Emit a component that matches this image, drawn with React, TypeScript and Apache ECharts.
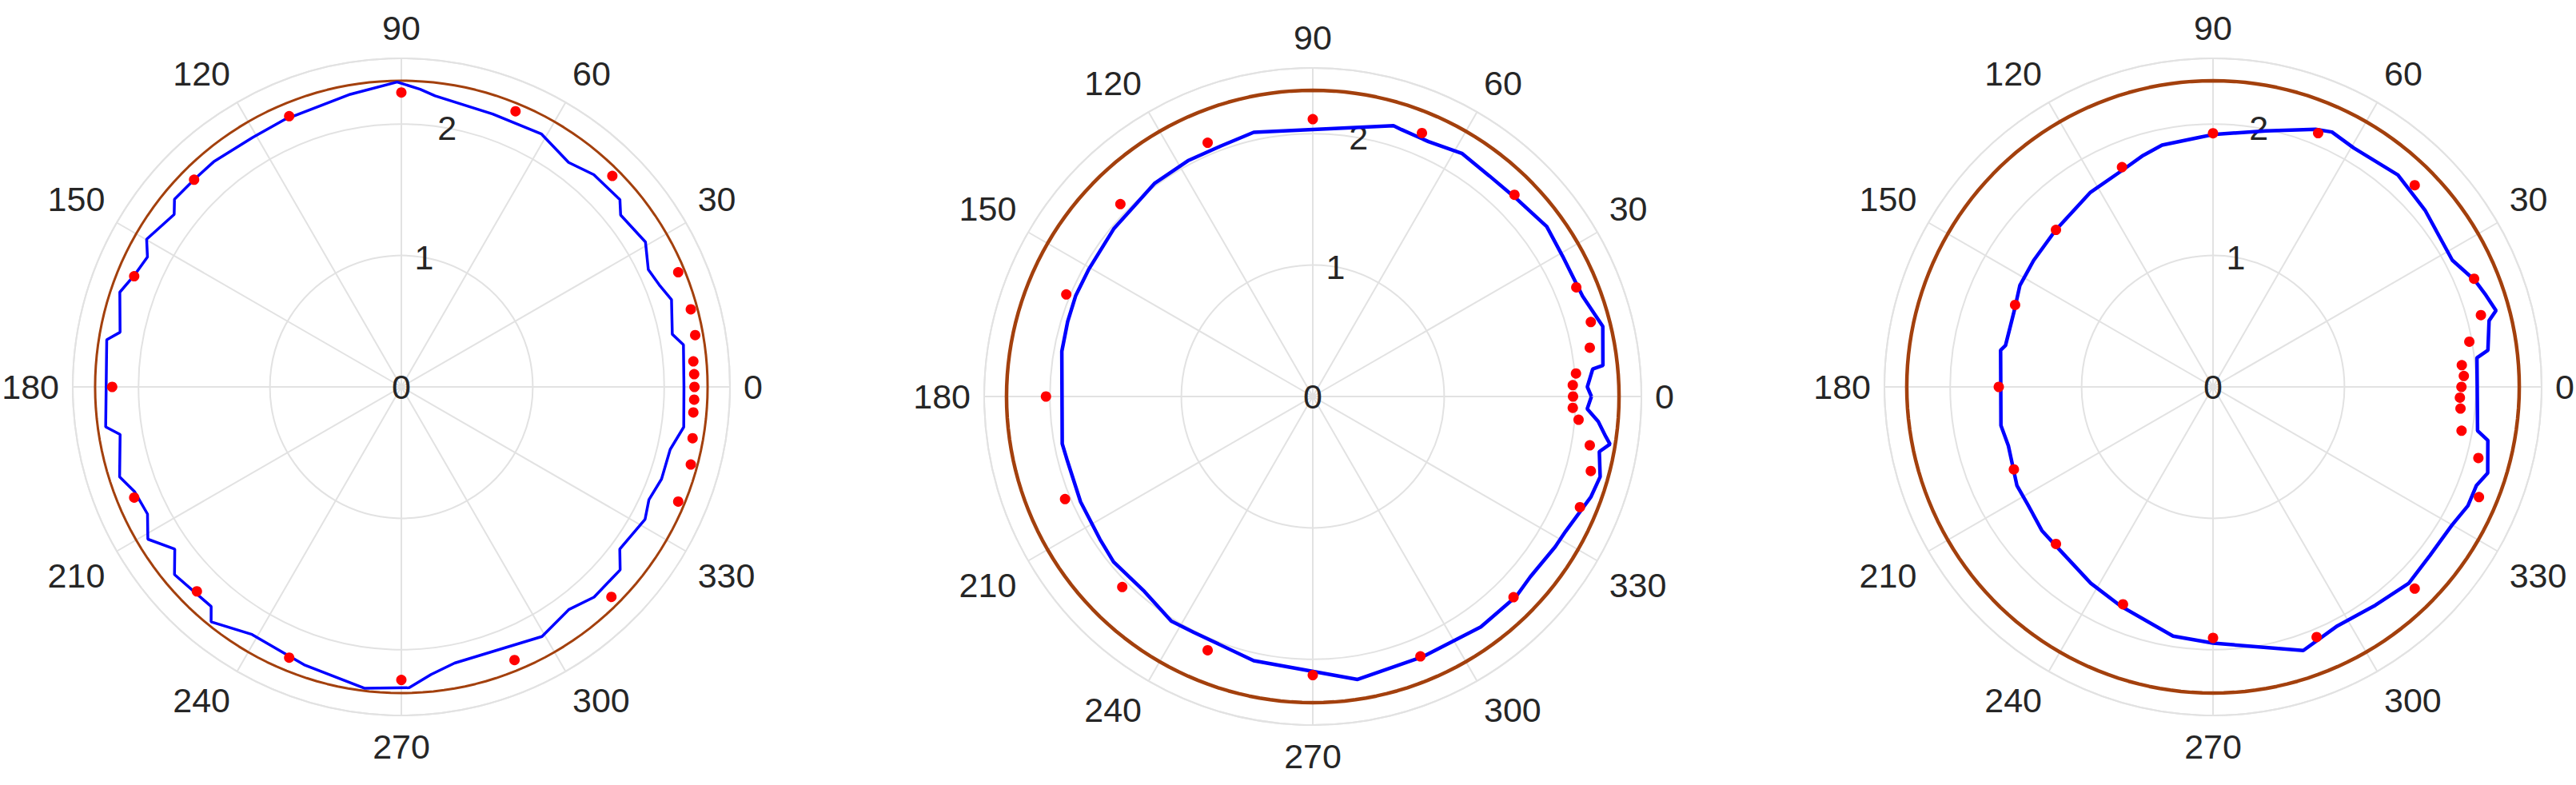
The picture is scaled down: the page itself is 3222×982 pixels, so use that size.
import React, { useEffect, useRef } from "react";
import * as echarts from "echarts";

// Red measured points: shared angles (deg)
const dotAngles = [0, 2.5, 5, 10, 15, 22.5, 45, 67.5, 90, 112.5, 135, 157.5, 180, 202.5, 225, 247.5, 270, 292.5, 315, 337.5, 345, 350, 355, 357.5];
const dotR1 = [2.23, 2.23, 2.23, 2.27, 2.28, 2.28, 2.27, 2.27, 2.24, 2.23, 2.23, 2.2, 2.2, 2.2, 2.2, 2.23, 2.23, 2.25, 2.26, 2.28, 2.28, 2.25, 2.23, 2.23];
const dotR2 = [1.98, 1.98, 2.01, 2.14, 2.19, 2.17, 2.17, 2.17, 2.11, 2.09, 2.07, 2.03, 2.03, 2.04, 2.05, 2.09, 2.12, 2.14, 2.16, 2.2, 2.19, 2.14, 2.03, 1.98];
const dotR3 = [1.89, 1.91, 1.9, 1.98, 2.11, 2.15, 2.17, 2.09, 1.93, 1.81, 1.69, 1.63, 1.63, 1.64, 1.69, 1.79, 1.91, 2.06, 2.17, 2.19, 2.09, 1.92, 1.89, 1.88];

// Blue curves (angle deg, radius)
const blueA1 = [0, 8.5, 11, 17.9, 21.6, 25.4, 30.7, 38.1, 40.6, 47.8, 53.3, 61, 71.5, 83.4, 86.4, 90.8, 99.9, 113.5, 120.8, 129.8, 134.9, 140.4, 142.8, 149.9, 152.9, 157.1, 161.4, 169, 170.9, 187.7, 189.6, 197.7, 201.5, 206.6, 211, 215.6, 219.6, 229.1, 231, 238.9, 250.7, 263, 271.5, 275.9, 280.9, 299.4, 307, 312.5, 320.1, 323.4, 331.5, 335.5, 340.5, 346.9, 351.9];
const blueR1 = [2.15, 2.17, 2.1, 2.16, 2.11, 2.08, 2.16, 2.12, 2.19, 2.18, 2.13, 2.2, 2.19, 2.23, 2.27, 2.32, 2.26, 2.22, 2.21, 2.23, 2.23, 2.24, 2.17, 2.24, 2.17, 2.2, 2.26, 2.18, 2.27, 2.27, 2.17, 2.25, 2.18, 2.16, 2.25, 2.12, 2.24, 2.21, 2.3, 2.2, 2.24, 2.31, 2.29, 2.2, 2.14, 2.18, 2.12, 2.17, 2.17, 2.07, 2.11, 2.07, 2.1, 2.1, 2.17];

const blueA2 = [0, 2, 5.6, 6.1, 13.6, 15.8, 20.4, 29.3, 36, 44.2, 51.3, 58.5, 65.6, 71.6, 73.4, 102.6, 110.2, 117.9, 126.5, 139.9, 150.3, 157, 163, 169.8, 190.7, 194.8, 204.4, 213.9, 219.7, 229.2, 237.8, 243.2, 257.4, 279, 293, 306.1, 315.5, 320.3, 328.2, 331.9, 340.2, 344.4, 349.1, 350.9, 352.2, 355, 357.4];
const blueR2 = [2.12, 2.09, 2.14, 2.22, 2.27, 2.24, 2.19, 2.18, 2.2, 2.16, 2.15, 2.17, 2.13, 2.14, 2.15, 2.06, 2.03, 2.03, 2.02, 1.98, 1.96, 1.96, 1.95, 1.94, 1.94, 1.93, 1.94, 1.95, 1.97, 1.96, 2.02, 2.01, 2.06, 2.18, 2.15, 2.17, 2.17, 2.15, 2.17, 2.18, 2.25, 2.27, 2.22, 2.29, 2.25, 2.18, 2.09];

const blueA3 = [0, 6.3, 7.6, 13.5, 15.1, 18.6, 22.2, 27.9, 39.8, 48.9, 59.5, 65, 68.3, 78.3, 90, 93.5, 101.9, 106.8, 112.3, 122.2, 135.2, 144.8, 152.3, 158.9, 168.7, 170.2, 190.3, 196, 206.7, 212.7, 220, 225, 238.1, 247.2, 260.9, 270, 288.9, 297.5, 306.6, 314.9, 322.2, 329.9, 335, 339.5, 342.6, 349, 350.6];
const blueR3 = [2.01, 2.02, 2.11, 2.16, 2.23, 2.19, 2.15, 2.06, 2.1, 2.14, 2.11, 2.14, 2.11, 1.99, 1.92, 1.9, 1.88, 1.84, 1.79, 1.75, 1.69, 1.67, 1.66, 1.62, 1.61, 1.64, 1.64, 1.62, 1.67, 1.67, 1.7, 1.7, 1.76, 1.81, 1.92, 1.95, 2.12, 2.05, 2.07, 2.11, 2.09, 2.1, 2.14, 2.14, 2.19, 2.13, 2.04];

// Reference circle radius per plot
const refR = [2.33, 2.33, 2.33];

const rMax = 2.5;
const angleTickStep = 30;

const dotR = [dotR1, dotR2, dotR3];
const blueA = [blueA1, blueA2, blueA3];
const blueR = [blueR1, blueR2, blueR3];

const CENTERS = [
  [502, 484],
  [1642, 496],
  [2768, 484],
];
const RADIUS = 411;
const FONT = "'Liberation Sans', Arial, Helvetica, sans-serif";
const FONT_SIZE = 43;
const TEXT = "#262626";
const GRID = "#e2e2e2";
const BROWN_W = [3, 4.5, 4.5];
const BLUE_W = [3.5, 4.5, 4.5];

export default function App() {
  const ref = useRef<HTMLDivElement>(null);
  useEffect(() => {
    if (!ref.current) return;
    const chart = echarts.init(ref.current, undefined, { renderer: "svg" });
    const polar: any[] = [];
    const angleAxis: any[] = [];
    const radiusAxis: any[] = [];
    const series: any[] = [];
    const circleAngles: number[] = [];
    for (let a = 0; a <= 360; a += 2) circleAngles.push(a);

    for (let i = 0; i < 3; i++) {
      polar.push({ center: CENTERS[i], radius: RADIUS });
      angleAxis.push({
        polarIndex: i,
        type: "value",
        min: 0,
        max: 360,
        interval: angleTickStep,
        startAngle: 0,
        clockwise: false,
        axisLine: { show: true, lineStyle: { color: GRID, width: 2 } },
        axisTick: { show: false },
        splitLine: { show: true, lineStyle: { color: GRID, width: 2 } },
        axisLabel: { show: true, fontSize: FONT_SIZE, color: TEXT, fontFamily: FONT, margin: 17 },
      });
      radiusAxis.push({
        polarIndex: i,
        type: "value",
        min: 0,
        max: rMax,
        interval: 1,
        axisLine: { show: false },
        axisTick: { show: false },
        axisLabel: { show: false },
        splitLine: { show: true, lineStyle: { color: GRID, width: 2 } },
      });
    }
    // overlay polars for radial tick labels at 80 degrees
    for (let i = 0; i < 3; i++) {
      polar.push({ center: CENTERS[i], radius: RADIUS });
      angleAxis.push({
        polarIndex: i + 3,
        type: "value",
        min: 0,
        max: 360,
        startAngle: 80,
        clockwise: false,
        show: false,
      });
      radiusAxis.push({
        polarIndex: i + 3,
        type: "value",
        min: 0,
        max: rMax,
        interval: 1,
        z: 1,
        axisLine: { show: false },
        axisTick: { show: false },
        splitLine: { show: false },
        axisLabel: {
          show: true,
          margin: 0,
          align: "center",
          verticalAlign: "middle",
          showMaxLabel: false,
          fontSize: FONT_SIZE,
          color: TEXT,
          fontFamily: FONT,
          formatter: (v: number) => (Number.isInteger(v) ? String(v) : ""),
        },
      });
    }

    for (let i = 0; i < 3; i++) {
      series.push({
        type: "line",
        coordinateSystem: "polar",
        polarIndex: i,
        symbol: "none",
        silent: true,
        lineStyle: { color: "#a3400d", width: BROWN_W[i] },
        data: circleAngles.map((a) => [refR[i], a]),
        z: 3,
      });
      const bd = blueA[i].map((a, k) => [blueR[i][k], a]);
      bd.push([blueR[i][0], blueA[i][0] + 360]);
      series.push({
        type: "line",
        coordinateSystem: "polar",
        polarIndex: i,
        symbol: "none",
        silent: true,
        lineStyle: { color: "#0000ff", width: BLUE_W[i] },
        data: bd,
        z: 4,
      });
      series.push({
        type: "scatter",
        coordinateSystem: "polar",
        polarIndex: i,
        symbolSize: 13,
        silent: true,
        itemStyle: { color: "#ff0000", opacity: 1 },
        data: dotAngles.map((a, k) => [dotR[i][k], a]),
        z: 5,
      });
    }

    chart.setOption({
      animation: false,
      backgroundColor: "#ffffff",
      polar,
      angleAxis,
      radiusAxis,
      series,
    });
    return () => chart.dispose();
  }, []);
  return (
    <div
      ref={ref}
      style={{ position: "fixed", left: 0, top: 0, width: 3222, height: 982, background: "#fff" }}
    />
  );
}
